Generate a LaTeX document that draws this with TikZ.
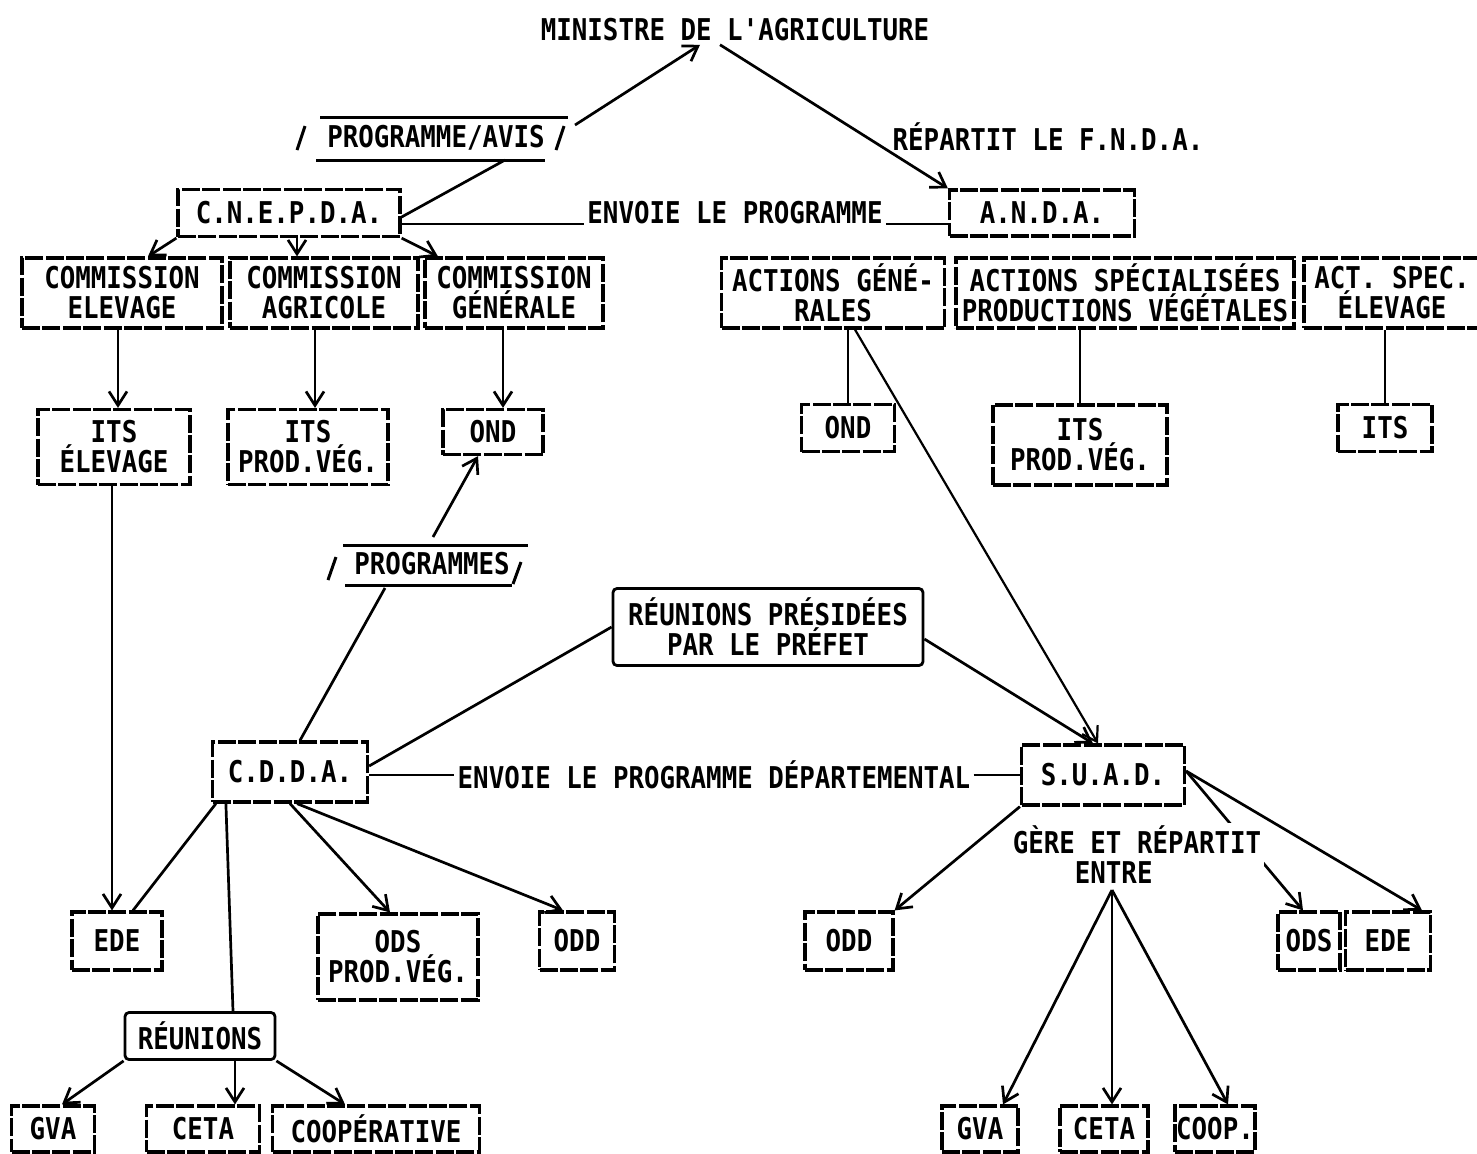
\documentclass[tikz,border=0pt]{standalone}
\usepackage{fontspec}
\newfontfamily\twfont[FakeStretch=0.86]{DejaVu Sans Mono}
\usetikzlibrary{arrows.meta}
\begin{document}
\begin{tikzpicture}[x=0.5pt,y=-0.5pt,
  every node/.style={font=\twfont\bfseries\fontsize{15}{15}\selectfont, text=black},
  tbox/.style={draw, line width=1.6pt, dash pattern=on 9pt off 1.2pt, align=center, inner sep=0pt},
  bx/.style 2 args={tbox, minimum width=#1*0.5pt, minimum height=#2*0.5pt},
  sbx/.style 2 args={draw, line width=1.4pt, rounded corners=2pt, align=center, inner sep=0pt,
    minimum width=#1*0.5pt, minimum height=#2*0.5pt},
  lbl/.style={inner sep=1.5pt, align=center},
  conn/.style={line width=1.35pt},
  deco/.style={line width=1.5pt},
  arr/.style={conn, -{Straight Barb[length=7pt,width=9pt]}}
]
\useasboundingbox[fill=white] (0,0) rectangle (1477,1153);

% ---------- nodes ----------
\node[lbl] (minister) at (735,30) {MINISTRE DE L'AGRICULTURE};
\node[lbl] (pavis) at (436,138) {PROGRAMME/AVIS};
\node[lbl] (repartit) at (1048,137) {RÉPARTIT LE F.N.D.A.};
\node[bx={222}{47}] (cnepda) at (289,213) {C.N.E.P.D.A.};
\node[lbl] (envoie1) at (735,213) {ENVOIE LE PROGRAMME};
\node[bx={185}{46}] (anda) at (1042,213) {A.N.D.A.};

\node[bx={200}{70}] (comelev) at (122,293) {COMMISSION\\ELEVAGE};
\node[bx={188}{70}] (comagri) at (324,293) {COMMISSION\\AGRICOLE};
\node[bx={178}{70}] (comgen) at (514,293) {COMMISSION\\GÉNÉRALE};
\node[bx={223}{70}] (actgen) at (833,293) {ACTIONS GÉNÉ-\\RALES};
\node[bx={338}{70}] (actspec) at (1125,293) {ACTIONS SPÉCIALISÉES\\PRODUCTIONS VÉGÉTALES};
\node[bx={176}{70}] (actspecel) at (1392,293) {ACT. SPEC.\\ÉLEVAGE};

\node[bx={152}{75}] (itsel) at (114,447) {ITS\\ÉLEVAGE};
\node[bx={160}{75}] (itspv1) at (308,447) {ITS\\PROD.VÉG.};
\node[bx={100}{45}] (ond1) at (493,432) {OND};
\node[bx={93}{47}] (ond2) at (848,428) {OND};
\node[bx={174}{80}] (itspv2) at (1080,445) {ITS\\PROD.VÉG.};
\node[bx={94}{47}] (its3) at (1385,428) {ITS};

\node[lbl] (progs) at (432,564) {PROGRAMMES};
\node[sbx={310}{77}] (presides) at (768,627) {RÉUNIONS PRÉSIDÉES\\PAR LE PRÉFET};
\node[bx={155}{60}] (cdda) at (290,772) {C.D.D.A.};
\node[lbl] (envoie2) at (714,775) {ENVOIE LE PROGRAMME DÉPARTEMENTAL};
\node[bx={163}{60}] (suad) at (1103,775) {S.U.A.D.};

\node[bx={90}{58}] (ede1) at (117,941) {EDE};
\node[bx={160}{86}] (odspv) at (398,957) {ODS\\PROD.VÉG.};
\node[bx={75}{58}] (odd1) at (577,941) {ODD};
\node[bx={88}{58}] (odd2) at (849,941) {ODD};
\node[bx={62}{58}] (ods2) at (1309,941) {ODS};
\node[bx={85}{58}] (ede2) at (1388,941) {EDE};

\node[sbx={150}{47}] (reunions) at (200,1036) {RÉUNIONS};
\node[bx={83}{46}] (gva1) at (53,1129) {GVA};
\node[bx={113}{46}] (ceta1) at (203,1129) {CETA};
\node[bx={207}{46}] (coop1) at (376,1129) {COOPÉRATIVE};
\node[bx={76}{46}] (gva2) at (980,1129) {GVA};
\node[bx={88}{46}] (ceta2) at (1104,1129) {CETA};
\node[bx={80}{46}] (coop2) at (1215,1129) {COOP.};

% ---------- label decorations ----------
\draw[deco] (320,117) -- (568,117);
\draw[deco] (316,160) -- (545,160);
\draw[deco] (297,150) -- (305,126);
\draw[deco] (556,150) -- (564,126);
\draw[deco] (343,545) -- (528,545);
\draw[deco] (345,585) -- (512,585);
\draw[deco] (328,580) -- (336,557);
\draw[deco] (513,584) -- (521,562);

% ---------- connectors ----------
\coordinate (pa1) at (505,160);
\coordinate (pa2) at (575,125);
\draw[conn] ([yshift=-2pt]cnepda.east) -- (pa1);
\draw[arr] (pa2) -- ([xshift=-17.5pt]minister.south);
\draw[arr] ([xshift=-7.5pt]minister.south) -- (anda.north west);

\draw[conn] (cnepda.east |- envoie1.base west) -- (envoie1.base west);
\draw[conn] (envoie1.base east) -- (anda.west |- envoie1.base east);

\draw[arr] (cnepda.south west) -- ([xshift=13pt]comelev.north);
\draw[arr] ([xshift=4pt]cnepda.south) -- ([xshift=4pt]cnepda.south |- comagri.north);
\draw[arr] (cnepda.south east) -- ([xshift=-38pt]comgen.north);

\draw[arr] ([xshift=-2pt]comelev.south) -- ([xshift=-2pt]comelev.south |- itsel.north);
\draw[arr] ([xshift=-4.5pt]comagri.south) -- ([xshift=-4.5pt]comagri.south |- itspv1.north);
\draw[arr] ([xshift=-5.5pt]comgen.south) -- ([xshift=-5.5pt]comgen.south |- ond1.north);
\draw[conn] (ond2.north) -- (ond2.north |- actgen.south);
\draw[conn] (itspv2.north) -- (itspv2.north |- actspec.south);
\draw[conn] (its3.north) -- (its3.north |- actspecel.south);

\draw[arr, line width=1.1pt] ([xshift=11pt]actgen.south) -- ([xshift=-2.5pt]suad.north);
\draw[arr] ([xshift=-1pt]itsel.south) -- ([xshift=-1pt]itsel.south |- ede1.north);

\coordinate (pg1) at (385,588);
\coordinate (pg2) at (433,537);
\draw[conn] ([xshift=5pt]cdda.north) -- (pg1);
\draw[arr] (pg2) -- ([xshift=-7.5pt]ond1.south);

\draw[conn] ([yshift=3pt]cdda.east) -- (presides.west);
\draw[arr] ([yshift=-6pt]presides.east) -- ([xshift=-5pt]suad.north);

\draw[conn] (cdda.east |- envoie2.west) -- (envoie2.west);
\draw[conn] (envoie2.east) -- (suad.west |- envoie2.east);

\draw[conn] ([xshift=2.5pt]cdda.south west) -- ([xshift=8pt]ede1.north);
\draw[conn] ([xshift=7.5pt]cdda.south west) -- ([xshift=16.5pt]reunions.north);
\draw[arr] (cdda.south) -- ([xshift=-4pt]odspv.north);
\draw[arr] ([xshift=3.5pt]cdda.south) -- ([xshift=-7pt]odd1.north);

\draw[arr] (reunions.south west) -- ([xshift=4.5pt]gva1.north);
\draw[arr] ([xshift=17.5pt]reunions.south) -- ([xshift=17.5pt]reunions.south |- ceta1.north);
\draw[arr] (reunions.south east) -- ([xshift=-15.5pt]coop1.north);

\draw[arr] (suad.south west) -- (odd2.north east);
\draw[arr] ([yshift=2pt]suad.east) -- ([xshift=-3pt]ods2.north);
\draw[arr] ([yshift=2pt]suad.east) -- ([xshift=17pt]ede2.north);
\coordinate (gp) at (1112,890);
\draw[arr] (gp) -- ([xshift=11.5pt]gva2.north);
\draw[arr] (gp) -- (gp |- ceta2.north);
\draw[arr] (gp) -- ([xshift=6.5pt]coop2.north);

\node[lbl, fill=white, align=left] (gere) at (1137,855) {GÈRE ET RÉPARTIT\\\hphantom{GÈRE}ENTRE};
\end{tikzpicture}
\end{document}
